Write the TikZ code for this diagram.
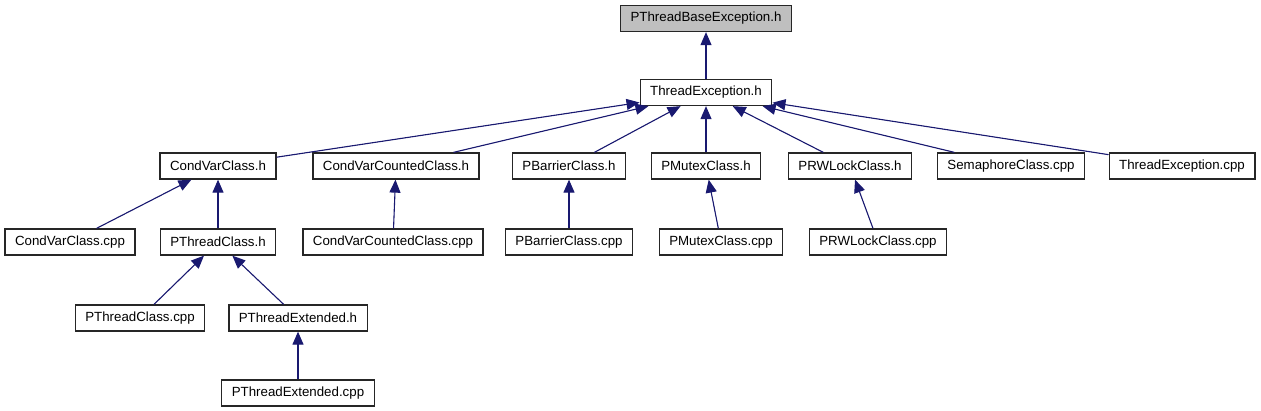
\documentclass[tikz,border=0pt]{standalone}
\usepackage{fontspec}
\setmainfont{Liberation Sans}
\usetikzlibrary{arrows.meta}
\definecolor{edgeblue}{HTML}{191970}
\definecolor{rootgray}{HTML}{BFBFBF}
\begin{document}
\begin{tikzpicture}[x=1pt, y=-1pt, >={Triangle[length=13pt,width=11pt]},
        font=\fontsize{13.3}{15}\selectfont,
        file/.style={rectangle, draw=black!85, line width=1.3pt, fill=white, minimum height=26pt, inner xsep=10pt, inner ysep=0pt},
        root/.style={file, fill=rootgray},
        dep/.style={draw=edgeblue, line width=1.1pt, ->, fill=edgeblue}]
        \useasboundingbox (0,0) rectangle (1261,411);
        % ---- 第一层 ----
        \node[root] (pbe) at (706, 18.5) {PThreadBaseException.h};
        % ---- 第二层 ----
        \node[file] (te) at (706, 92.5) {ThreadException.h};
        % ---- 第三层 ----
        \node[file] (cvh)   at (218, 166)  {CondVarClass.h};
        \node[file] (cvch)  at (396, 166)  {CondVarCountedClass.h};
        \node[file] (pbh)   at (569, 166)  {PBarrierClass.h};
        \node[file] (pmh)   at (706, 166)  {PMutexClass.h};
        \node[file] (prwh)  at (850, 166)  {PRWLockClass.h};
        \node[file] (sem)   at (1011, 166) {SemaphoreClass.cpp};
        \node[file] (tecpp) at (1182, 166) {ThreadException.cpp};
        % ---- 第四层 ----
        \node[file] (cvcpp)  at (70, 242)  {CondVarClass.cpp};
        \node[file] (pth)    at (218, 242) {PThreadClass.h};
        \node[file] (cvccpp) at (393, 242) {CondVarCountedClass.cpp};
        \node[file] (pbcpp)  at (569, 242) {PBarrierClass.cpp};
        \node[file] (pmcpp)  at (721, 242) {PMutexClass.cpp};
        \node[file] (prwcpp) at (878, 242) {PRWLockClass.cpp};
        % ---- 第五、六层 ----
        \node[file] (ptcpp)  at (140, 318) {PThreadClass.cpp};
        \node[file] (pteh)   at (298, 318) {PThreadExtended.h};
        \node[file] (ptecpp) at (298, 393) {PThreadExtended.cpp};
        % ---- 依赖关系 ----
        \draw[dep] (te) -- (pbe);
        \foreach \a in {cvh,cvch,pbh,pmh,prwh,sem,tecpp}
          \draw[dep] (\a) -- (te);
        \foreach \a in {cvcpp,pth}
          \draw[dep] (\a) -- (cvh);
        \draw[dep] (cvccpp) -- (cvch);
        \draw[dep] (pbcpp) -- (pbh);
        \draw[dep] (pmcpp) -- (pmh);
        \draw[dep] (prwcpp) -- (prwh);
        \foreach \a in {ptcpp,pteh}
          \draw[dep] (\a) -- (pth);
        \draw[dep] (ptecpp) -- (pteh);
    \end{tikzpicture}
\end{document}
